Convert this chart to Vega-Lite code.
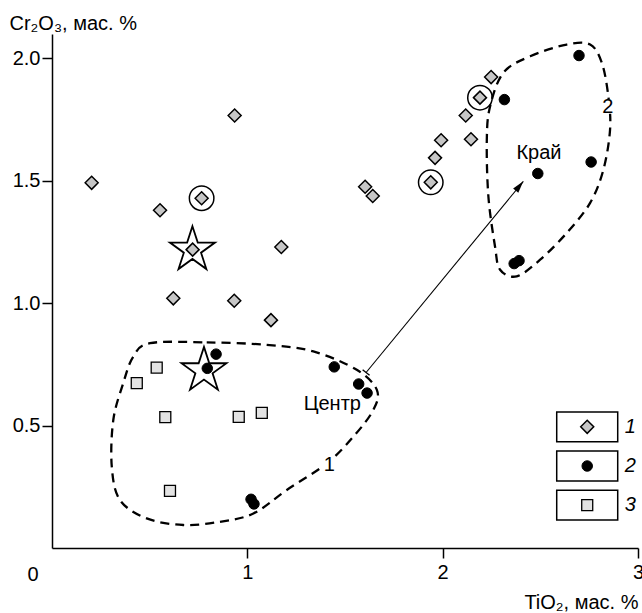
{
  "$schema": "https://vega.github.io/schema/vega-lite/v6.json",
  "width": 586,
  "height": 514,
  "autosize": {"type": "none"},
  "padding": {"left": 52, "top": 34, "right": 4, "bottom": 65},
  "background": "white",
  "config": {"view": {"stroke": null}, "font": "Liberation Sans"},
  "datasets": {
    "contours": [
      {"id": "c1", "ord": 1, "x": 0.502, "y": 0.837},
      {"id": "c1", "ord": 2, "x": 0.792, "y": 0.840},
      {"id": "c1", "ord": 3, "x": 1.099, "y": 0.830},
      {"id": "c1", "ord": 4, "x": 1.338, "y": 0.803},
      {"id": "c1", "ord": 5, "x": 1.560, "y": 0.728},
      {"id": "c1", "ord": 6, "x": 1.663, "y": 0.646},
      {"id": "c1", "ord": 7, "x": 1.645, "y": 0.564},
      {"id": "c1", "ord": 8, "x": 1.543, "y": 0.455},
      {"id": "c1", "ord": 9, "x": 1.407, "y": 0.346},
      {"id": "c1", "ord": 10, "x": 1.202, "y": 0.237},
      {"id": "c1", "ord": 11, "x": 1.031, "y": 0.141},
      {"id": "c1", "ord": 12, "x": 0.860, "y": 0.107},
      {"id": "c1", "ord": 13, "x": 0.672, "y": 0.094},
      {"id": "c1", "ord": 14, "x": 0.485, "y": 0.121},
      {"id": "c1", "ord": 15, "x": 0.348, "y": 0.196},
      {"id": "c1", "ord": 16, "x": 0.306, "y": 0.333},
      {"id": "c1", "ord": 17, "x": 0.314, "y": 0.524},
      {"id": "c1", "ord": 18, "x": 0.365, "y": 0.674},
      {"id": "c1", "ord": 19, "x": 0.416, "y": 0.782},
      {"id": "c2", "ord": 1, "x": 2.311, "y": 1.942},
      {"id": "c2", "ord": 2, "x": 2.448, "y": 2.009},
      {"id": "c2", "ord": 3, "x": 2.635, "y": 2.057},
      {"id": "c2", "ord": 4, "x": 2.755, "y": 2.057},
      {"id": "c2", "ord": 5, "x": 2.815, "y": 1.982},
      {"id": "c2", "ord": 6, "x": 2.848, "y": 1.846},
      {"id": "c2", "ord": 7, "x": 2.857, "y": 1.710},
      {"id": "c2", "ord": 8, "x": 2.823, "y": 1.546},
      {"id": "c2", "ord": 9, "x": 2.755, "y": 1.410},
      {"id": "c2", "ord": 10, "x": 2.635, "y": 1.287},
      {"id": "c2", "ord": 11, "x": 2.499, "y": 1.178},
      {"id": "c2", "ord": 12, "x": 2.379, "y": 1.110},
      {"id": "c2", "ord": 13, "x": 2.294, "y": 1.137},
      {"id": "c2", "ord": 14, "x": 2.268, "y": 1.232},
      {"id": "c2", "ord": 15, "x": 2.234, "y": 1.437},
      {"id": "c2", "ord": 16, "x": 2.226, "y": 1.669},
      {"id": "c2", "ord": 17, "x": 2.243, "y": 1.805}
    ],
    "pts": [
      {"g": "1", "x": 0.203, "y": 1.492},
      {"g": "1", "x": 0.553, "y": 1.380},
      {"g": "1", "x": 0.935, "y": 1.767},
      {"g": "1", "x": 0.766, "y": 1.429},
      {"g": "1", "x": 0.720, "y": 1.219},
      {"g": "1", "x": 0.621, "y": 1.020},
      {"g": "1", "x": 0.933, "y": 1.010},
      {"g": "1", "x": 1.121, "y": 0.931},
      {"g": "1", "x": 1.174, "y": 1.230},
      {"g": "1", "x": 1.603, "y": 1.476},
      {"g": "1", "x": 1.642, "y": 1.438},
      {"g": "1", "x": 1.939, "y": 1.494},
      {"g": "1", "x": 1.961, "y": 1.594},
      {"g": "1", "x": 1.992, "y": 1.666},
      {"g": "1", "x": 2.118, "y": 1.767},
      {"g": "1", "x": 2.145, "y": 1.670},
      {"g": "1", "x": 2.191, "y": 1.840},
      {"g": "1", "x": 2.248, "y": 1.924},
      {"g": "2", "x": 0.840, "y": 0.792},
      {"g": "2", "x": 0.795, "y": 0.734},
      {"g": "2", "x": 1.445, "y": 0.740},
      {"g": "2", "x": 1.570, "y": 0.670},
      {"g": "2", "x": 1.613, "y": 0.633},
      {"g": "2", "x": 1.019, "y": 0.199},
      {"g": "2", "x": 1.034, "y": 0.180},
      {"g": "2", "x": 2.316, "y": 1.832},
      {"g": "2", "x": 2.698, "y": 2.012},
      {"g": "2", "x": 2.760, "y": 1.577},
      {"g": "2", "x": 2.487, "y": 1.530},
      {"g": "2", "x": 2.366, "y": 1.162},
      {"g": "2", "x": 2.391, "y": 1.174},
      {"g": "3", "x": 0.536, "y": 0.737},
      {"g": "3", "x": 0.434, "y": 0.674},
      {"g": "3", "x": 0.580, "y": 0.535},
      {"g": "3", "x": 0.956, "y": 0.536},
      {"g": "3", "x": 1.074, "y": 0.552},
      {"g": "3", "x": 0.604, "y": 0.233}
    ],
    "rings": [
      {"x": 0.766, "y": 1.429},
      {"x": 1.939, "y": 1.494},
      {"x": 2.191, "y": 1.840}
    ],
    "stars": [
      {"x": 0.719, "y": 1.218},
      {"x": 0.778, "y": 0.725}
    ],
    "arrow": [
      {"x": 1.608, "y": 0.717, "x2": 2.413, "y2": 1.498}
    ],
    "legend": [
      {"g": "1", "x": 2.74, "y": 0.495},
      {"g": "2", "x": 2.74, "y": 0.335},
      {"g": "3", "x": 2.74, "y": 0.175}
    ],
    "clabels": [
      {"x": 1.420, "y": 0.339, "t": "1"},
      {"x": 2.845, "y": 1.803, "t": "2"}
    ],
    "labels": [
      {"x": 1.435, "y": 0.587, "t": "Центр"},
      {"x": 2.493, "y": 1.613, "t": "Край"}
    ],
    "zero": [
      {"x": 0, "y": 0, "t": "0"}
    ]
  },
  "layer": [
    {
      "data": {"name": "contours"},
      "mark": {"type": "line", "interpolate": "cardinal-closed", "stroke": "black", "strokeWidth": 2.3, "strokeDash": [9, 6]},
      "encoding": {
        "x": {
          "field": "x", "type": "quantitative",
          "scale": {"domain": [0, 3], "nice": false, "zero": false},
          "axis": {
            "title": "TiO₂, мас. %", "values": [1, 2, 3], "format": "d", "grid": false,
            "domainColor": "black", "domainWidth": 1.5, "tickColor": "black", "tickWidth": 1.5, "tickSize": 10,
            "labelFontSize": 20, "labelColor": "black", "labelPadding": 4, "labelFlush": false, "labelOverlap": false,
            "labelFont": "Liberation Sans",
            "titleFont": "Liberation Sans", "titleFontSize": 20, "titleFontWeight": "normal", "titleColor": "black",
            "titleAlign": "right", "titleAnchor": null, "titleBaseline": "alphabetic", "titleX": 586, "titleY": 60
          }
        },
        "y": {
          "field": "y", "type": "quantitative",
          "scale": {"domain": [0, 2.1], "nice": false, "zero": false},
          "axis": {
            "title": "Cr₂O₃, мас. %", "values": [0.5, 1, 1.5, 2], "format": ".1f", "grid": false,
            "domainColor": "black", "domainWidth": 1.5, "tickColor": "black", "tickWidth": 1.5, "tickSize": 10,
            "labelFontSize": 20, "labelColor": "black", "labelPadding": 2, "labelFont": "Liberation Sans",
            "titleFont": "Liberation Sans", "titleFontSize": 20, "titleFontWeight": "normal", "titleColor": "black",
            "titleAngle": 0, "titleAlign": "left", "titleAnchor": null, "titleBaseline": "alphabetic", "titleX": -43, "titleY": -5
          }
        },
        "detail": {"field": "id"},
        "order": {"field": "ord", "type": "quantitative"}
      }
    },
    {
      "data": {"name": "clabels"},
      "mark": {"type": "point", "shape": "square", "size": 200, "filled": true, "fill": "white", "strokeWidth": 0, "opacity": 1},
      "encoding": {"x": {"field": "x", "type": "quantitative"}, "y": {"field": "y", "type": "quantitative"}}
    },
    {
      "data": {"name": "clabels"},
      "mark": {"type": "text", "fontSize": 20, "font": "Liberation Sans", "color": "black", "align": "center", "baseline": "middle"},
      "encoding": {"x": {"field": "x", "type": "quantitative"}, "y": {"field": "y", "type": "quantitative"}, "text": {"field": "t"}}
    },
    {
      "data": {"name": "arrow"},
      "mark": {"type": "rule", "stroke": "black", "strokeWidth": 1.1},
      "encoding": {
        "x": {"field": "x", "type": "quantitative"}, "y": {"field": "y", "type": "quantitative"},
        "x2": {"field": "x2"}, "y2": {"field": "y2"}
      }
    },
    {
      "data": {"name": "arrow"},
      "mark": {"type": "point", "shape": "M0,0L0.28,1L-0.28,1Z", "size": 576, "angle": 39.4, "filled": true, "fill": "black", "strokeWidth": 0, "opacity": 1},
      "encoding": {"x": {"field": "x2", "type": "quantitative"}, "y": {"field": "y2", "type": "quantitative"}}
    },
    {
      "data": {"name": "arrow"},
      "mark": {"type": "point", "shape": "stroke", "size": 81, "angle": 39.4, "filled": false, "stroke": "black", "strokeWidth": 1.3, "opacity": 1},
      "encoding": {"x": {"field": "x", "type": "quantitative"}, "y": {"field": "y", "type": "quantitative"}}
    },
    {
      "data": {"name": "stars"},
      "mark": {"type": "point", "shape": "M0,-1L0.2245,-0.309L0.951,-0.309L0.363,0.118L0.588,0.809L0,0.382L-0.588,0.809L-0.363,0.118L-0.951,-0.309L-0.2245,-0.309Z", "size": 2240, "filled": true, "fill": "white", "stroke": "black", "strokeWidth": 1.8, "opacity": 1},
      "encoding": {"x": {"field": "x", "type": "quantitative"}, "y": {"field": "y", "type": "quantitative"}}
    },
    {
      "data": {"name": "rings"},
      "mark": {"type": "point", "shape": "circle", "size": 600, "filled": false, "stroke": "black", "strokeWidth": 1.5, "opacity": 1},
      "encoding": {"x": {"field": "x", "type": "quantitative"}, "y": {"field": "y", "type": "quantitative"}}
    },
    {
      "data": {"name": "pts"},
      "transform": [{"filter": "datum.g == '1'"}],
      "mark": {"type": "point", "shape": "diamond", "size": 169, "filled": true, "fill": "#c6c6c6", "stroke": "black", "strokeWidth": 1.5, "opacity": 1},
      "encoding": {"x": {"field": "x", "type": "quantitative"}, "y": {"field": "y", "type": "quantitative"}}
    },
    {
      "data": {"name": "pts"},
      "transform": [{"filter": "datum.g == '2'"}],
      "mark": {"type": "point", "shape": "circle", "size": 110, "filled": true, "fill": "black", "stroke": "black", "strokeWidth": 1, "opacity": 1},
      "encoding": {"x": {"field": "x", "type": "quantitative"}, "y": {"field": "y", "type": "quantitative"}}
    },
    {
      "data": {"name": "pts"},
      "transform": [{"filter": "datum.g == '3'"}],
      "mark": {"type": "point", "shape": "square", "size": 121, "filled": true, "fill": "#e3e3e3", "stroke": "black", "strokeWidth": 1.3, "opacity": 1},
      "encoding": {"x": {"field": "x", "type": "quantitative"}, "y": {"field": "y", "type": "quantitative"}}
    },
    {
      "data": {"name": "legend"},
      "mark": {"type": "point", "shape": "M-1,-0.49L1,-0.49L1,0.49L-1,0.49Z", "size": 3721, "filled": true, "fill": "white", "stroke": "black", "strokeWidth": 1.5, "opacity": 1},
      "encoding": {"x": {"field": "x", "type": "quantitative"}, "y": {"field": "y", "type": "quantitative"}}
    },
    {
      "data": {"name": "legend"},
      "transform": [{"filter": "datum.g == '1'"}],
      "mark": {"type": "point", "shape": "diamond", "size": 169, "filled": true, "fill": "#c6c6c6", "stroke": "black", "strokeWidth": 1.5, "opacity": 1},
      "encoding": {"x": {"field": "x", "type": "quantitative"}, "y": {"field": "y", "type": "quantitative"}}
    },
    {
      "data": {"name": "legend"},
      "transform": [{"filter": "datum.g == '2'"}],
      "mark": {"type": "point", "shape": "circle", "size": 110, "filled": true, "fill": "black", "stroke": "black", "strokeWidth": 1, "opacity": 1},
      "encoding": {"x": {"field": "x", "type": "quantitative"}, "y": {"field": "y", "type": "quantitative"}}
    },
    {
      "data": {"name": "legend"},
      "transform": [{"filter": "datum.g == '3'"}],
      "mark": {"type": "point", "shape": "square", "size": 121, "filled": true, "fill": "#e3e3e3", "stroke": "black", "strokeWidth": 1.3, "opacity": 1},
      "encoding": {"x": {"field": "x", "type": "quantitative"}, "y": {"field": "y", "type": "quantitative"}}
    },
    {
      "data": {"name": "legend"},
      "mark": {"type": "text", "fontSize": 20, "font": "Liberation Sans", "fontStyle": "italic", "color": "black", "align": "center", "baseline": "middle", "dx": 43},
      "encoding": {"x": {"field": "x", "type": "quantitative"}, "y": {"field": "y", "type": "quantitative"}, "text": {"field": "g"}}
    },
    {
      "data": {"name": "labels"},
      "mark": {"type": "text", "fontSize": 20, "font": "Liberation Sans", "color": "black", "align": "center", "baseline": "middle"},
      "encoding": {"x": {"field": "x", "type": "quantitative"}, "y": {"field": "y", "type": "quantitative"}, "text": {"field": "t"}}
    },
    {
      "data": {"name": "zero"},
      "mark": {"type": "text", "fontSize": 20, "font": "Liberation Sans", "color": "black", "align": "center", "baseline": "middle", "dx": -19, "dy": 27},
      "encoding": {"x": {"field": "x", "type": "quantitative"}, "y": {"field": "y", "type": "quantitative"}, "text": {"field": "t"}}
    }
  ]
}
